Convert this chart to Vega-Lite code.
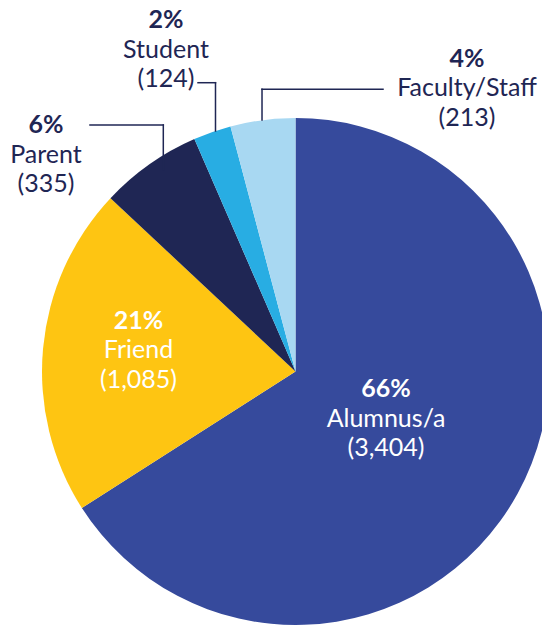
{
  "$schema": "https://vega.github.io/schema/vega-lite/v6.json",
  "width": 542,
  "height": 627,
  "padding": 0,
  "autosize": {"type": "none"},
  "background": "white",
  "config": {"view": {"stroke": null}},
  "data": {
    "values": [
      {"category": "Alumnus/a", "count": 3404},
      {"category": "Friend", "count": 1085},
      {"category": "Parent", "count": 335},
      {"category": "Student", "count": 124},
      {"category": "Faculty/Staff", "count": 213}
    ]
  },
  "transform": [
    {"joinaggregate": [{"op": "sum", "field": "count", "as": "total"}]},
    {"calculate": "format(datum.count / datum.total, '.0%')", "as": "pct"},
    {"calculate": "datum.category + '|(' + format(datum.count, ',') + ')'", "as": "body"},
    {"calculate": "indexof(['Alumnus/a','Friend','Parent','Student','Faculty/Staff'], datum.category)", "as": "ord"}
  ],
  "layer": [
    {
      "mark": {"type": "arc", "outerRadius": 253.5},
      "encoding": {
        "theta": {"field": "count", "type": "quantitative", "stack": true},
        "order": {"field": "ord", "type": "quantitative"},
        "color": {
          "field": "category", "type": "nominal", "legend": null,
          "scale": {
            "domain": ["Alumnus/a", "Friend", "Parent", "Student", "Faculty/Staff"],
            "range": ["#364A9C", "#FEC512", "#1F2654", "#28ADE3", "#A8D8F2"]
          }
        },
        "x": {"datum": 0, "type": "quantitative", "axis": null, "scale": {"domain": [-1.1657, 0.9724], "nice": false, "zero": false}},
        "y": {"datum": 0, "type": "quantitative", "axis": null, "scale": {"domain": [-1.0079, 1.4655], "nice": false, "zero": false}}
      }
    },
    {
      "transform": [{"filter": "datum.category === 'Parent'"}],
      "layer": [
        {"mark": {"type": "rule", "color": "#1F2654", "strokeWidth": 1.5, "strokeCap": "square"},
         "encoding": {"x": {"datum": -0.8107, "type": "quantitative"}, "x2": {"datum": -0.5215}, "y": {"datum": 0.9724, "type": "quantitative"}, "y2": {"datum": 0.9724}}},
        {"mark": {"type": "rule", "color": "#1F2654", "strokeWidth": 1.5, "strokeCap": "square"},
         "encoding": {"x": {"datum": -0.5215, "type": "quantitative"}, "x2": {"datum": -0.5215}, "y": {"datum": 0.9724, "type": "quantitative"}, "y2": {"datum": 0.7949}}}
      ]
    },
    {
      "transform": [{"filter": "datum.category === 'Student'"}],
      "layer": [
        {"mark": {"type": "rule", "color": "#1F2654", "strokeWidth": 1.5, "strokeCap": "square"},
         "encoding": {"x": {"datum": -0.3846, "type": "quantitative"}, "x2": {"datum": -0.3156}, "y": {"datum": 1.1392, "type": "quantitative"}, "y2": {"datum": 1.1392}}},
        {"mark": {"type": "rule", "color": "#1F2654", "strokeWidth": 1.5, "strokeCap": "square"},
         "encoding": {"x": {"datum": -0.3156, "type": "quantitative"}, "x2": {"datum": -0.3156}, "y": {"datum": 1.1392, "type": "quantitative"}, "y2": {"datum": 0.9487}}}
      ]
    },
    {
      "transform": [{"filter": "datum.category === 'Faculty/Staff'"}],
      "layer": [
        {"mark": {"type": "rule", "color": "#1F2654", "strokeWidth": 1.5, "strokeCap": "square"},
         "encoding": {"x": {"datum": 0.3452, "type": "quantitative"}, "x2": {"datum": -0.1321}, "y": {"datum": 1.1132, "type": "quantitative"}, "y2": {"datum": 1.1132}}},
        {"mark": {"type": "rule", "color": "#1F2654", "strokeWidth": 1.5, "strokeCap": "square"},
         "encoding": {"x": {"datum": -0.1321, "type": "quantitative"}, "x2": {"datum": -0.1321}, "y": {"datum": 1.1132, "type": "quantitative"}, "y2": {"datum": 0.9921}}}
      ]
    },
    {
      "transform": [{"filter": "datum.category === 'Alumnus/a'"}],
      "encoding": {"x": {"datum": 0.3570, "type": "quantitative"}, "y": {"datum": -0.1006, "type": "quantitative"}},
      "layer": [
        {"mark": {"type": "text", "font": "Lato", "fontSize": 25, "fontWeight": "bold", "color": "white", "align": "center", "baseline": "alphabetic"},
         "encoding": {"text": {"field": "pct", "type": "nominal"}}},
        {"mark": {"type": "text", "font": "Lato", "fontSize": 25, "color": "white", "align": "center", "baseline": "alphabetic", "lineBreak": "|", "lineHeight": 29.5, "dy": 29.5},
         "encoding": {"text": {"field": "body", "type": "nominal"}}}
      ]
    },
    {
      "transform": [{"filter": "datum.category === 'Friend'"}],
      "encoding": {"x": {"datum": -0.6193, "type": "quantitative"}, "y": {"datum": 0.1677, "type": "quantitative"}},
      "layer": [
        {"mark": {"type": "text", "font": "Lato", "fontSize": 25, "fontWeight": "bold", "color": "white", "align": "center", "baseline": "alphabetic"},
         "encoding": {"text": {"field": "pct", "type": "nominal"}}},
        {"mark": {"type": "text", "font": "Lato", "fontSize": 25, "color": "white", "align": "center", "baseline": "alphabetic", "lineBreak": "|", "lineHeight": 29.5, "dy": 29.5},
         "encoding": {"text": {"field": "body", "type": "nominal"}}}
      ]
    },
    {
      "transform": [{"filter": "datum.category === 'Parent'"}],
      "encoding": {"x": {"datum": -0.9842, "type": "quantitative"}, "y": {"datum": 0.9408, "type": "quantitative"}},
      "layer": [
        {"mark": {"type": "text", "font": "Lato", "fontSize": 25, "fontWeight": "bold", "color": "#1F2654", "align": "center", "baseline": "alphabetic"},
         "encoding": {"text": {"field": "pct", "type": "nominal"}}},
        {"mark": {"type": "text", "font": "Lato", "fontSize": 25, "color": "#1F2654", "align": "center", "baseline": "alphabetic", "lineBreak": "|", "lineHeight": 29.5, "dy": 29.5},
         "encoding": {"text": {"field": "body", "type": "nominal"}}}
      ]
    },
    {
      "transform": [{"filter": "datum.category === 'Student'"}],
      "encoding": {"x": {"datum": -0.5108, "type": "quantitative"}, "y": {"datum": 1.3550, "type": "quantitative"}},
      "layer": [
        {"mark": {"type": "text", "font": "Lato", "fontSize": 25, "fontWeight": "bold", "color": "#1F2654", "align": "center", "baseline": "alphabetic"},
         "encoding": {"text": {"field": "pct", "type": "nominal"}}},
        {"mark": {"type": "text", "font": "Lato", "fontSize": 25, "color": "#1F2654", "align": "center", "baseline": "alphabetic", "lineBreak": "|", "lineHeight": 29.5, "dy": 29.5},
         "encoding": {"text": {"field": "body", "type": "nominal"}}}
      ]
    },
    {
      "transform": [{"filter": "datum.category === 'Faculty/Staff'"}],
      "encoding": {"x": {"datum": 0.6765, "type": "quantitative"}, "y": {"datum": 1.2012, "type": "quantitative"}},
      "layer": [
        {"mark": {"type": "text", "font": "Lato", "fontSize": 25, "fontWeight": "bold", "color": "#1F2654", "align": "center", "baseline": "alphabetic"},
         "encoding": {"text": {"field": "pct", "type": "nominal"}}},
        {"mark": {"type": "text", "font": "Lato", "fontSize": 25, "color": "#1F2654", "align": "center", "baseline": "alphabetic", "lineBreak": "|", "lineHeight": 29.5, "dy": 29.5},
         "encoding": {"text": {"field": "body", "type": "nominal"}}}
      ]
    }
  ]
}
